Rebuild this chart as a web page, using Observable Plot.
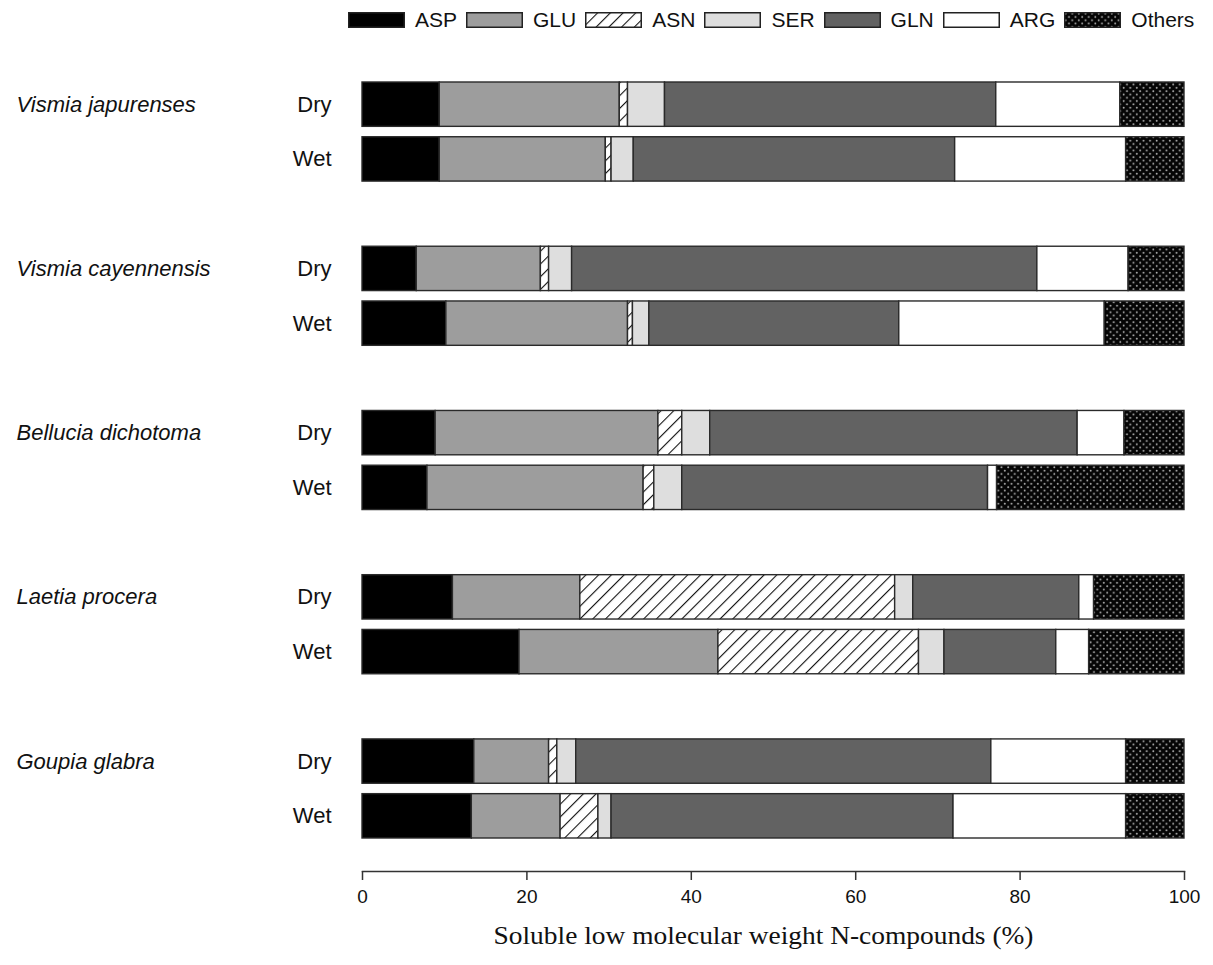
<!DOCTYPE html>
<html>
<head>
<meta charset="utf-8">
<script src="https://cdn.jsdelivr.net/npm/d3@7"></script>
<script src="https://cdn.jsdelivr.net/npm/@observablehq/plot@0.6"></script>
<style>
  html, body { margin: 0; padding: 0; background: white; }
  #legend { height: 40px; display: flex; align-items: center; padding-left: 348px; box-sizing: border-box;
            font-family: "Liberation Sans", Arial, sans-serif; font-size: 21px; color: #111; }
  .item { display: flex; align-items: center; margin-right: 9px; }
  .item svg { margin-right: 10px; display: block; }
</style>
</head>
<body>
<svg width="0" height="0" style="position:absolute">
  <defs>
    <pattern id="hatch" patternUnits="userSpaceOnUse" width="9" height="9" patternTransform="rotate(45)">
      <rect width="9" height="9" fill="white"></rect>
      <line x1="0" y1="0" x2="0" y2="9" stroke="#111" stroke-width="2.2"></line>
    </pattern>
    <pattern id="dots" patternUnits="userSpaceOnUse" width="6.6" height="6.6">
      <rect width="6.6" height="6.6" fill="#050505"></rect>
      <circle cx="1.65" cy="1.65" r="0.95" fill="#b8b8b8"></circle>
      <circle cx="4.95" cy="4.95" r="0.95" fill="#b8b8b8"></circle>
    </pattern>
  </defs>
</svg>
<div id="legend"></div>
<div id="chart"></div>
<script>
// ---- data ----
const species = ["Vismia japurenses", "Vismia cayennensis", "Bellucia dichotoma", "Laetia procera", "Goupia glabra"];
const conditions = ["Dry", "Wet"];
const compounds = ["ASP", "GLU", "ASN", "SER", "GLN", "ARG", "Others"];
// values in order: species x (Dry, Wet)
const ASP    = [9.4, 9.4,   6.6, 10.2,   8.9, 7.9,   11.0, 19.1,  13.6, 13.3];
const GLU    = [21.9, 20.2, 15.1, 22.1,  27.1, 26.3,  15.5, 24.2,  9.1, 10.8];
const ASN    = [1.0, 0.7,   1.0, 0.6,    2.9, 1.3,    38.3, 24.4,  1.0, 4.6];
const SER    = [4.5, 2.7,   2.8, 2.0,    3.4, 3.4,    2.2, 3.1,    2.3, 1.6];
const GLN    = [40.3, 39.1, 56.6, 30.4,  44.7, 37.2,  20.2, 13.6,  50.5, 41.6];
const ARG    = [15.1, 20.8, 11.1, 25.0,  5.7, 1.1,    1.8, 4.0,    16.4, 21.0];
const Others = [7.8, 7.1,   6.8, 9.7,    7.3, 22.8,   11.0, 11.6,  7.1, 7.1];
const xTicks = [0, 20, 40, 60, 80, 100];
const xLabel = "Soluble low molecular weight N-compounds (%)";

const series = {ASP, GLU, ASN, SER, GLN, ARG, Others};
const paints = {ASP: "#000000", GLU: "#9d9d9d", ASN: "url(#hatch)", SER: "#dedede", GLN: "#626262", ARG: "#ffffff", Others: "url(#dots)"};

// ---- build table ----
const keys = [];
species.forEach((s, i) => {
  conditions.forEach(c => keys.push(s + "|" + c));
  if (i < species.length - 1) keys.push("gap" + i);
});
const barKeys = keys.filter(k => !k.startsWith("gap"));
const data = [];
species.forEach((s, i) => conditions.forEach((c, j) => {
  compounds.forEach(comp => data.push({key: s + "|" + c, compound: comp, value: series[comp][i * 2 + j], paint: paints[comp]}));
}));

// ---- legend ----
const legend = d3.select("#legend");
compounds.forEach(c => {
  const it = legend.append("div").attr("class", "item");
  const sw = it.append("svg").attr("width", 57).attr("height", 16);
  sw.append("rect").attr("x", 0.75).attr("y", 0.75).attr("width", 55.5).attr("height", 14.5)
    .attr("fill", paints[c]).attr("stroke", "#222").attr("stroke-width", 1.5);
  it.append("span").text(c);
});

// ---- chart ----
const chart = Plot.plot({
  width: 1213,
  height: 925,
  marginLeft: 362,
  marginRight: 29,
  marginTop: 0,
  marginBottom: 94,
  style: {fontFamily: "'Liberation Sans', Arial, sans-serif", color: "#111", background: "white"},
  x: {domain: [0, 100], axis: null},
  y: {domain: keys, range: [42, 798], paddingInner: 0.19, paddingOuter: 0, round: false, axis: null},
  color: {type: "identity"},
  marks: [
    Plot.barX(data, Plot.stackX({x: "value", y: "key", z: "compound", order: compounds, fill: "paint", stroke: "#2a2a2a", strokeWidth: 1.4})),
    Plot.frame({anchor: "bottom", stroke: "#333", strokeWidth: 1.5}),
    Plot.axisX({ticks: xTicks, tickSize: 9, tickPadding: 9, fontSize: 19, label: null, stroke: "#333", strokeWidth: 1.5}),
    Plot.axisY({ticks: barKeys, tickFormat: k => k.split("|")[1], tickSize: 0, tickPadding: 31, fontSize: 22, label: null}),
    Plot.text(species, {y: s => s + "|Dry", text: s => s, frameAnchor: "left", dx: -346, textAnchor: "start", fontStyle: "italic", fontSize: 22}),
    Plot.text([xLabel], {text: d => d, frameAnchor: "bottom", dy: 72, dx: -10, fontSize: 26, fontFamily: "'Liberation Serif', 'Times New Roman', serif"})
  ]
});
document.getElementById("chart").appendChild(chart);
d3.select(chart).selectAll("text").filter(function() { return this.textContent === xLabel; })
  .attr("textLength", 540).attr("lengthAdjust", "spacingAndGlyphs");
</script>
</body>
</html>
